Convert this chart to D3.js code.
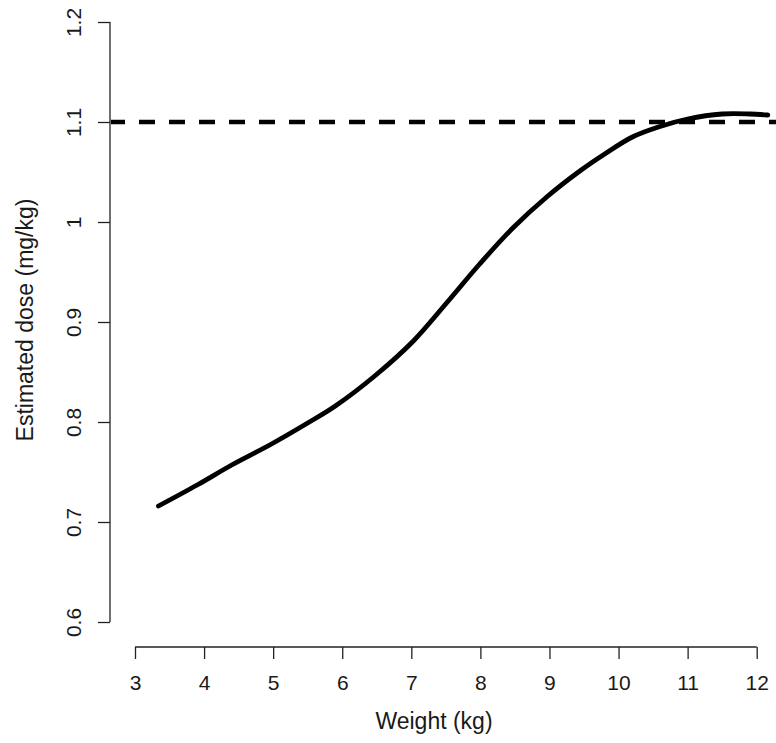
<!DOCTYPE html>
<html>
<head>
<meta charset="utf-8">
<script src="https://cdn.jsdelivr.net/npm/d3@7"></script>
<style>
  html, body { margin: 0; padding: 0; background: #fff; }
  text { font-family: "Liberation Sans", Arial, Helvetica, sans-serif; fill: #1a1a1a; }
</style>
</head>
<body>
<svg id="chart" width="776" height="743"></svg>
<script>
// Data
const weights = [3.34, 3.9, 4.4, 4.95, 5.5, 5.9, 6.47, 7.03, 7.51, 7.99, 8.47, 8.96, 9.44, 9.8, 10.2, 10.6, 11.0, 11.5, 11.9, 12.16];
const doses   = [0.716, 0.737, 0.757, 0.777, 0.799, 0.816, 0.846, 0.881, 0.919, 0.958, 0.994, 1.025, 1.051, 1.068, 1.085, 1.0955, 1.103, 1.108, 1.108, 1.107];
const referenceDose = 1.1;
const xTicks = [3, 4, 5, 6, 7, 8, 9, 10, 11, 12];
const yTicks = [0.6, 0.7, 0.8, 0.9, 1.0, 1.1, 1.2];
const xTitle = "Weight (kg)";
const yTitle = "Estimated dose (mg/kg)";

const svg = d3.select("#chart");
const x = d3.scaleLinear().domain([3, 12]).range([135, 756.7]);
const y = d3.scaleLinear().domain([0.6, 1.2]).range([622, 22]);
const axisX = 110, axisY = 647;
const tickFont = "21px";
const titleFont = "23px";

// Y axis
const yAxis = d3.axisLeft(y).tickValues(yTicks).tickSize(12).tickSizeOuter(0)
  .tickFormat(d => d3.format("~g")(d));
const gy = svg.append("g").attr("transform", `translate(${axisX},0)`).call(yAxis);
gy.select(".domain").attr("stroke", "#222").attr("stroke-width", 1.3)
  .attr("d", `M0,${y(0.6)}V${y(1.2)}`);
gy.selectAll(".tick line").attr("stroke", "#222").attr("stroke-width", 1.3);
gy.selectAll(".tick text")
  .attr("x", null).attr("dy", null)
  .attr("transform", "translate(-29,0) rotate(-90)")
  .attr("text-anchor", "middle")
  .attr("y", 0)
  .style("font-size", tickFont)
  .style("font-family", "'Liberation Sans', Arial, sans-serif")
  .attr("fill", "#1a1a1a");

// X axis
const xAxis = d3.axisBottom(x).tickValues(xTicks).tickSize(12).tickSizeOuter(0)
  .tickFormat(d3.format("d"));
const gx = svg.append("g").attr("transform", `translate(0,${axisY})`).call(xAxis);
gx.select(".domain").attr("stroke", "#222").attr("stroke-width", 1.3)
  .attr("d", `M${x(3)},0H${x(12)}`);
gx.selectAll(".tick line").attr("stroke", "#222").attr("stroke-width", 1.3);
gx.selectAll(".tick text")
  .attr("dy", null).attr("y", 42.5)
  .style("font-size", tickFont)
  .style("font-family", "'Liberation Sans', Arial, sans-serif")
  .attr("fill", "#1a1a1a");

// Reference dashed line
svg.append("line")
  .attr("x1", axisX + 1).attr("x2", 776)
  .attr("y1", y(referenceDose)).attr("y2", y(referenceDose))
  .attr("stroke", "#000").attr("stroke-width", 4.5)
  .attr("stroke-dasharray", "16,14").attr("stroke-dashoffset", 2);

// Curve
const pts = weights.map((w, i) => [w, doses[i]]);
const line = d3.line().x(d => x(d[0])).y(d => y(d[1])).curve(d3.curveCatmullRom.alpha(0.5));
svg.append("path").datum(pts)
  .attr("d", line)
  .attr("fill", "none").attr("stroke", "#000").attr("stroke-width", 4.8)
  .attr("stroke-linecap", "round").attr("stroke-linejoin", "round");

// Titles
svg.append("text").attr("x", 434).attr("y", 729).attr("text-anchor", "middle")
  .style("font-size", titleFont).text(xTitle);
svg.append("text").attr("transform", "translate(33,320) rotate(-90)")
  .attr("text-anchor", "middle").style("font-size", titleFont).text(yTitle);
</script>
</body>
</html>
